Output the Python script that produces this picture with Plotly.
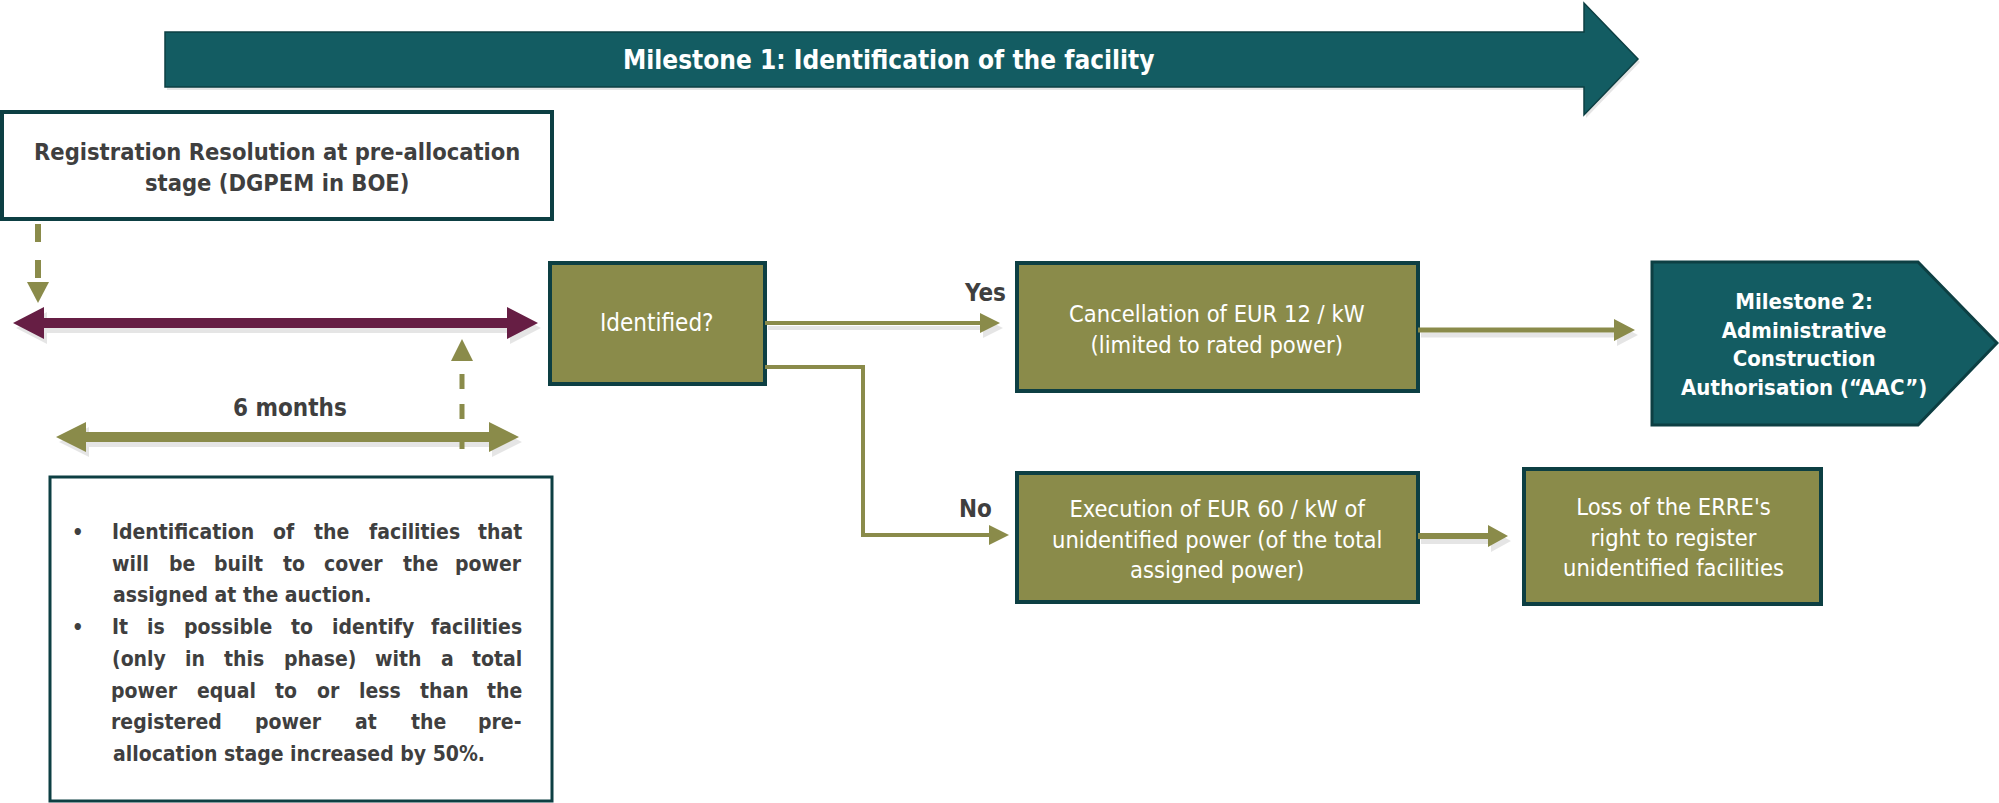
import plotly.graph_objects as go

# ---------------- data (diagram content) ----------------
banner_label = "Milestone 1: Identification of the facility"
start_label = ["Registration Resolution at pre-allocation", "stage (DGPEM in BOE)"]
period_label = "6 months"
decision_label = "Identified?"
branch_labels = ["Yes", "No"]
yes_label = ["Cancellation of EUR 12 / kW", "(limited to rated power)"]
milestone2_label = ["Milestone 2:", "Administrative", "Construction", "Authorisation (\u201cAAC\u201d)"]
no_label = ["Execution of EUR 60 / kW of", "unidentified power (of the total", "assigned power)"]
loss_label = ["Loss of the ERRE's", "right to register", "unidentified facilities"]
bullet_lines = [
    ["Identification of the facilities that", "will be built to cover the power", "assigned at the auction."],
    ["It is possible to identify facilities", "(only in this phase) with a total",
     "power equal to or less than the", "registered power at the pre-",
     "allocation stage increased by 50%."],
]

# ---------------- style ----------------
W, H = 1999, 803
TEAL = "#135c62"
TEAL_DARK = "#0d3f43"
OLIVE = "#8a8b4a"
MAROON = "#661e44"
GREY_TXT = "#3f3f3f"
FONT = "DejaVu Sans Condensed, Liberation Sans Narrow, sans-serif"

fig = go.Figure()
shapes = []
annotations = []

# approximate bold glyph widths (em) for justified layout
_W = dict(a=.675, b=.716, c=.593, d=.716, e=.678, f=.435, g=.716, h=.712, i=.343, j=.343,
          k=.665, l=.343, m=1.042, n=.712, o=.687, p=.716, q=.716, r=.493, s=.595, t=.478,
          u=.712, v=.652, w=.924, x=.645, y=.652, z=.582)
_W.update({"I": .372, "(": .457, ")": .457, ".": .38, "%": 1.002, "-": .415, ",": .38})


def word_w(wd, size):
    return sum(_W.get(ch, .696) for ch in wd) * size * 0.89


def path_shape(pts, fill, line_color=None, line_width=0, layer="above"):
    d = "M " + " L ".join(f"{x},{y}" for x, y in pts) + " Z"
    return dict(type="path", path=d, xref="x", yref="y", fillcolor=fill,
                line=dict(color=line_color or fill, width=line_width), layer=layer)


def h_arrow(x0, x1, y, shaft, head_len, head_half, double=False):
    s = shaft / 2
    d = 1 if x1 > x0 else -1
    pts = []
    if double:
        pts += [(x0, y), (x0 + d * head_len, y - head_half), (x0 + d * head_len, y - s)]
    else:
        pts += [(x0, y - s)]
    pts += [(x1 - d * head_len, y - s), (x1 - d * head_len, y - head_half), (x1, y),
            (x1 - d * head_len, y + head_half), (x1 - d * head_len, y + s)]
    if double:
        pts += [(x0 + d * head_len, y + s), (x0 + d * head_len, y + head_half)]
    else:
        pts += [(x0, y + s)]
    return pts


def shadow(pts, dx=3, dy=5):
    return path_shape([(x + dx, y + dy) for x, y in pts], "rgba(0,0,0,0.10)", layer="below")


def rect(x0, y0, x1, y1, fill, line_color, lw):
    return dict(type="rect", xref="x", yref="y", x0=x0, y0=y0, x1=x1, y1=y1,
                fillcolor=fill, line=dict(color=line_color, width=lw), layer="above")


def text(x, y, s, size, color, bold=False, xanchor="center", align="center"):
    if bold:
        s = "<b>" + s + "</b>"
    annotations.append(dict(x=x, y=y, xref="x", yref="y", text=s, showarrow=False,
                            xanchor=xanchor, yanchor="middle", align=align, borderpad=0,
                            font=dict(family=FONT, size=size, color=color)))


# Milestone 1 banner arrow
banner = [(165, 32), (1584, 32), (1584, 3), (1638, 59), (1584, 115), (1584, 87), (165, 87)]
shapes.append(shadow(banner, 2, 3))
shapes.append(path_shape(banner, TEAL, TEAL_DARK, 1.5))
text(889, 60, banner_label, 26, "white", bold=True)

# Registration box
shapes.append(rect(2, 112, 552, 219, "white", TEAL_DARK, 4))
text(277, 167, "<br>".join(start_label), 23.5, GREY_TXT, bold=True)

# dashed arrow down
shapes.append(dict(type="line", xref="x", yref="y", x0=38, y0=224, x1=38, y1=284,
                   line=dict(color=OLIVE, width=6, dash="dash")))
shapes.append(path_shape([(27, 282), (49, 282), (38, 303)], OLIVE))

# maroon double arrow
maroon = h_arrow(13, 538, 323, 10, 31, 16, double=True)
shapes.append(shadow(maroon))
shapes.append(path_shape(maroon, MAROON))

# dashed arrow up
shapes.append(dict(type="line", xref="x", yref="y", x0=462, y0=449, x1=462, y1=359,
                   line=dict(color=OLIVE, width=5, dash="dash")))
shapes.append(path_shape([(451, 361), (473, 361), (462, 339)], OLIVE))

# 6 months arrow
six = h_arrow(56, 519, 437, 10, 30, 15, double=True)
shapes.append(shadow(six))
shapes.append(path_shape(six, OLIVE))
text(290, 408, period_label, 24, GREY_TXT, bold=True)

# bullet box with justified text
shapes.append(rect(50, 477, 552, 801, "white", TEAL_DARK, 3))
BX0, BX1, BSIZE = 112, 523, 21
y = 532
for para in bullet_lines:
    text(78, y, "\u2022", 20, GREY_TXT, bold=True)
    for li, ln in enumerate(para):
        words = ln.split(" ")
        last = li == len(para) - 1
        if last or len(words) == 1:
            text(BX0, y, ln, BSIZE, GREY_TXT, bold=True, xanchor="left", align="left")
        else:
            widths = [word_w(wd, BSIZE) for wd in words]
            gap = (BX1 - BX0 - sum(widths)) / (len(words) - 1)
            xpos = BX0
            for wi, wd in enumerate(words):
                if wi == len(words) - 1:
                    text(BX1, y, wd, BSIZE, GREY_TXT, bold=True, xanchor="right")
                else:
                    text(xpos + widths[wi] / 2, y, wd, BSIZE, GREY_TXT, bold=True)
                xpos += widths[wi] + gap
        y += 31.7

# Identified box
shapes.append(rect(550, 263, 765, 384, OLIVE, TEAL_DARK, 4))
text(657, 323, decision_label, 24, "white")

# Yes arrow
yes_arr = h_arrow(765, 1000, 323, 4, 20, 10)
shapes.append(shadow(yes_arr))
shapes.append(path_shape(yes_arr, OLIVE))
text(985, 293, branch_labels[0], 24, GREY_TXT, bold=True)

# Cancellation box
shapes.append(rect(1017, 263, 1418, 391, OLIVE, TEAL_DARK, 4))
text(1217, 329, "<br>".join(yes_label), 23.5, "white")

# arrow to milestone 2
m2_arr = h_arrow(1418, 1635, 330, 5, 21, 11)
shapes.append(shadow(m2_arr))
shapes.append(path_shape(m2_arr, OLIVE))

# Milestone 2 pentagon
m2 = [(1652, 262), (1918, 262), (1997, 343), (1918, 425), (1652, 425)]
shapes.append(path_shape(m2, TEAL, TEAL_DARK, 3))
text(1804, 344, "<br>".join(milestone2_label), 22, "white", bold=True)

# No path
shapes.append(dict(type="path", xref="x", yref="y",
                   path="M 765,367 L 863,367 L 863,535 L 990,535",
                   line=dict(color=OLIVE, width=4)))
shapes.append(path_shape([(989, 525), (989, 545), (1009, 535)], OLIVE))
text(975, 509, branch_labels[1], 24, GREY_TXT, bold=True)

# Execution box
shapes.append(rect(1017, 473, 1418, 602, OLIVE, TEAL_DARK, 4))
text(1217, 539, "<br>".join(no_label), 23.5, "white")

# arrow exec -> loss
loss_arr = h_arrow(1418, 1508, 536, 6, 20, 11)
shapes.append(shadow(loss_arr))
shapes.append(path_shape(loss_arr, OLIVE))

# Loss box
shapes.append(rect(1524, 469, 1821, 604, OLIVE, TEAL_DARK, 4))
text(1673, 537, "<br>".join(loss_label), 23.5, "white")

fig.update_layout(
    width=W, height=H,
    margin=dict(l=0, r=0, t=0, b=0),
    paper_bgcolor="white", plot_bgcolor="white",
    xaxis=dict(range=[0, W], visible=False, fixedrange=True),
    yaxis=dict(range=[H, 0], visible=False, fixedrange=True),
    shapes=shapes, annotations=annotations, showlegend=False,
)
fig.write_html("out.html", config={"displayModeBar": False},
               post_script="document.body.style.margin='0';document.body.style.overflow='hidden';")
